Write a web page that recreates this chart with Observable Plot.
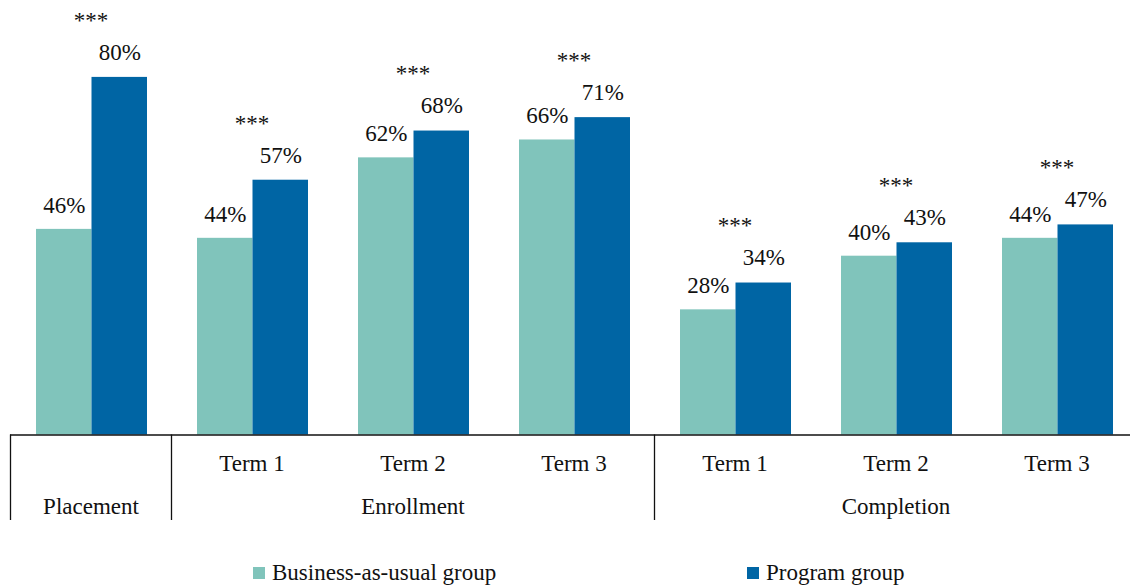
<!DOCTYPE html>
<html>
<head>
<meta charset="utf-8">
<script src="https://cdn.jsdelivr.net/npm/d3@7"></script>
<script src="https://cdn.jsdelivr.net/npm/@observablehq/plot@0.6"></script>
<style>
  html, body { margin: 0; padding: 0; background: #fff; overflow: hidden; }
  #wrap { position: relative; width: 1130px; height: 587px; font-family: "Liberation Serif", "Times New Roman", serif; }
  #chart { position: absolute; left: 0; top: 0; }
  .leg { position: absolute; top: 560px; height: 26px; display: flex; align-items: center; font-size: 23px; color: #111; }
  .leg .sw { width: 12px; height: 12px; margin-right: 7px; }
</style>
</head>
<body>
<div id="wrap">
  <div id="chart"></div>
  <div class="leg" style="left:253px"><div class="sw" id="sw0"></div><span id="lg0"></span></div>
  <div class="leg" style="left:747px"><div class="sw" id="sw1"></div><span id="lg1"></span></div>
</div>
<script>
// ---- data ----
const groups = ["Placement", "Enrollment Term 1", "Enrollment Term 2", "Enrollment Term 3",
                "Completion Term 1", "Completion Term 2", "Completion Term 3"];
const termLabels = ["", "Term 1", "Term 2", "Term 3", "Term 1", "Term 2", "Term 3"];
const categoryLabels = ["Placement", "Enrollment", "Completion"];
const categoryStart = [0, 1, 4];
const categoryEnd = [0, 3, 6];
const seriesNames = ["Business-as-usual group", "Program group"];
const businessAsUsual = [46, 44, 62, 66, 28, 40, 44];
const programGroup = [80, 57, 68, 71, 34, 43, 47];
const significance = ["***", "***", "***", "***", "***", "***", "***"];

// ---- style ----
const colors = ["#80c4bb", "#0065a4"];
const FONT = 23;
const SERIF = "'Liberation Serif', 'Times New Roman', serif";
const pxPerPct = 4.47;
const baseY = 434.5;          // pixel position of 0%
const H = 530;
const band = 161, barW = 55.5, lead = 26;

document.getElementById("sw0").style.background = colors[0];
document.getElementById("sw1").style.background = colors[1];
document.getElementById("lg0").textContent = seriesNames[0];
document.getElementById("lg1").textContent = seriesNames[1];

const rows0 = groups.map((g, i) => ({group: g, value: businessAsUsual[i]}));
const rows1 = groups.map((g, i) => ({group: g, value: programGroup[i]}));
const stars = groups.map((g, i) => ({group: g, value: Math.max(businessAsUsual[i], programGroup[i]), s: significance[i]}));
const terms = groups.map((g, i) => ({group: g, label: termLabels[i]})).filter(d => d.label);
const cats = categoryLabels.map((c, i) => ({label: c, group: groups[(categoryStart[i] + categoryEnd[i]) / 2]}));
const seps = categoryStart.map(i => ({group: groups[i]}));

const yTop = baseY / pxPerPct;
const sepEnd = -(520 - baseY) / pxPerPct;

const insetL0 = lead, insetR0 = band - lead - barW;
const insetL1 = lead + barW, insetR1 = band - lead - 2 * barW;
const dx0 = lead + barW / 2 - band / 2;
const dx1 = lead + barW * 1.5 - band / 2;

const T = {fontSize: FONT, fontFamily: SERIF, fill: "#111"};

const chart = Plot.plot({
  width: 1130,
  height: H,
  marginLeft: 10,
  marginRight: 0,
  marginTop: 0,
  marginBottom: H - baseY,
  style: {fontFamily: SERIF, background: "white", color: "#111"},
  x: {domain: groups, range: [10, 10 + band * groups.length], padding: 0, axis: null},
  y: {domain: [0, yTop], axis: null},
  marks: [
    Plot.barY(rows0, {x: "group", y: "value", fill: colors[0], insetLeft: insetL0, insetRight: insetR0}),
    Plot.barY(rows1, {x: "group", y: "value", fill: colors[1], insetLeft: insetL1, insetRight: insetR1}),
    Plot.text(rows0, {x: "group", y: "value", text: d => d.value + "%", dx: dx0, dy: -24, ...T}),
    Plot.text(rows1, {x: "group", y: "value", text: d => d.value + "%", dx: dx1, dy: -25, ...T}),
    Plot.text(stars, {x: "group", y: "value", text: "s", dy: -57, ...T}),
    Plot.ruleY([0], {stroke: "#111", strokeWidth: 1.5}),
    Plot.ruleX(seps, {x: "group", dx: -band / 2, y1: 0, y2: sepEnd, stroke: "#111", strokeWidth: 1.3}),
    Plot.text(terms, {x: "group", y: 0, text: "label", dy: 29, ...T}),
    Plot.text(cats, {x: "group", y: 0, text: "label", dy: 72, ...T})
  ]
});
document.getElementById("chart").appendChild(chart);
</script>
</body>
</html>
